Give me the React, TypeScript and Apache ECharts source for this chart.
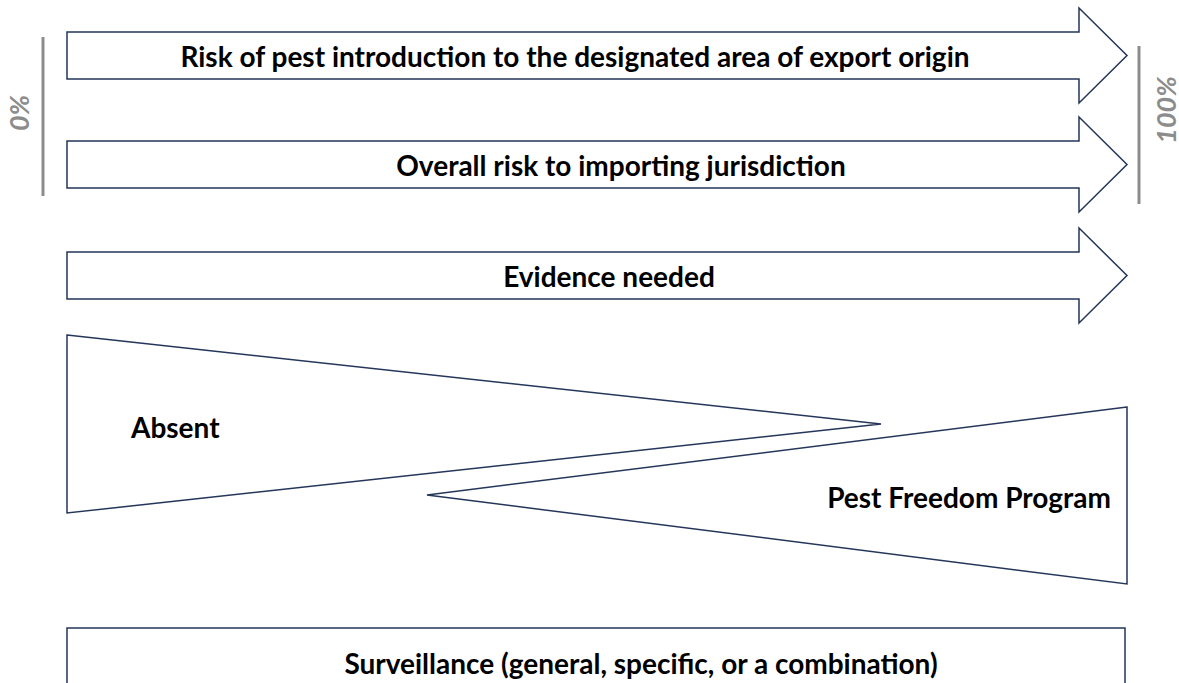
import React, { useEffect, useRef } from "react";
import * as echarts from "echarts";

const arrowLabels = [
  "Risk of pest introduction to the designated area of export origin",
  "Overall risk to importing jurisdiction",
  "Evidence needed",
];
const wedgeLabels = ["Absent", "Pest Freedom Program"];
const boxLabel = "Surveillance (general, specific, or a combination)";
const scaleLabels = ["0%", "100%"];

const NAVY = "#24365a";
const GRAY = "#8c8c8c";
const FONT_FAMILY = "Lato, 'Open Sans', sans-serif";
const FS = 28;

export default function App() {
  const ref = useRef<HTMLDivElement>(null);
  useEffect(() => {
    if (!ref.current) return;
    const chart = echarts.init(ref.current, undefined, { renderer: "svg" });
    const arrowTops = [32, 141, 252];
    const arrowTextX = [575, 621, 609];
    const elements: any[] = [];
    arrowTops.forEach((t, i) => {
      const b = t + 47;
      const ht = t - 24;
      const hb = b + 24;
      const mid = (t + b) / 2;
      elements.push({
        type: "polygon",
        shape: {
          points: [
            [67, t],
            [1079, t],
            [1079, ht],
            [1127, mid],
            [1079, hb],
            [1079, b],
            [67, b],
          ],
        },
        style: { fill: "#fff", stroke: NAVY, lineWidth: 1.5 },
      });
      elements.push({
        type: "text",
        x: arrowTextX[i],
        y: mid,
        style: {
          text: arrowLabels[i],
          align: "center",
          verticalAlign: "middle",
          fill: "#000",
          font: `bold ${FS}px ${FONT_FAMILY}`,
        },
      });
    });
    // wedges
    elements.push({
      type: "polygon",
      shape: { points: [[67, 335], [881, 424], [67, 513]] },
      style: { fill: "#fff", stroke: NAVY, lineWidth: 1.5 },
    });
    elements.push({
      type: "polygon",
      shape: { points: [[1127, 407], [427, 495], [1127, 584]] },
      style: { fill: "#fff", stroke: NAVY, lineWidth: 1.5 },
    });
    elements.push({
      type: "text",
      x: 131,
      y: 427,
      style: {
        text: wedgeLabels[0],
        align: "left",
        verticalAlign: "middle",
        fill: "#000",
        font: `bold ${FS}px ${FONT_FAMILY}`,
      },
    });
    elements.push({
      type: "text",
      x: 1111,
      y: 497,
      style: {
        text: wedgeLabels[1],
        align: "right",
        verticalAlign: "middle",
        fill: "#000",
        font: `bold ${FS}px ${FONT_FAMILY}`,
      },
    });
    // bottom box
    elements.push({
      type: "rect",
      shape: { x: 67, y: 628, width: 1058, height: 80 },
      style: { fill: "#fff", stroke: NAVY, lineWidth: 1.5 },
    });
    elements.push({
      type: "text",
      x: 641,
      y: 663,
      style: {
        text: boxLabel,
        align: "center",
        verticalAlign: "middle",
        fill: "#000",
        font: `bold ${FS}px ${FONT_FAMILY}`,
      },
    });
    // scale bars
    elements.push({
      type: "line",
      shape: { x1: 43, y1: 37, x2: 43, y2: 196 },
      style: { stroke: GRAY, lineWidth: 3 },
    });
    elements.push({
      type: "line",
      shape: { x1: 1139, y1: 46, x2: 1139, y2: 204 },
      style: { stroke: GRAY, lineWidth: 3 },
    });
    elements.push({
      type: "text",
      x: 18,
      y: 113,
      rotation: Math.PI / 2,
      style: {
        text: scaleLabels[0],
        align: "center",
        verticalAlign: "middle",
        lineHeight: 22,
        fill: GRAY,
        font: `italic bold 27px ${FONT_FAMILY}`,
      },
    });
    elements.push({
      type: "text",
      x: 1165,
      y: 110,
      rotation: Math.PI / 2,
      style: {
        text: scaleLabels[1],
        align: "center",
        verticalAlign: "middle",
        lineHeight: 22,
        fill: GRAY,
        font: `italic bold 27px ${FONT_FAMILY}`,
      },
    });
    chart.setOption({
      animation: false,
      backgroundColor: "#fff",
      graphic: { elements },
    });
    return () => chart.dispose();
  }, []);
  return (
    <div
      ref={ref}
      style={{ position: "fixed", left: 0, top: 0, width: 1179, height: 683 }}
    />
  );
}
